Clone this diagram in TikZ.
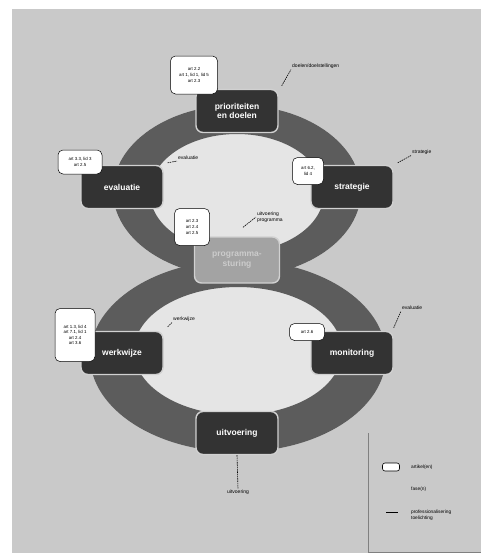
\documentclass[tikz,border=0pt]{standalone}
\usepackage{fontspec}
\setmainfont{Liberation Sans}
\definecolor{bgc}{gray}{0.79}
\definecolor{innerc}{gray}{0.9}
\definecolor{bandc}{gray}{0.36}
\definecolor{phasec}{gray}{0.2}
\definecolor{centerc}{gray}{0.64}
\begin{document}
\begin{tikzpicture}[x=1pt,y=-1pt,
  phase/.style={rounded corners=7pt, fill=phasec, draw=white!82!black, line width=1.4pt,
    text=white, font=\bfseries\fontsize{8.5}{9.5}\selectfont, align=center,
    minimum width=82pt, minimum height=43pt, inner sep=2pt},
  centerbox/.style={phase, fill=centerc, text=white!80!black},
  art/.style={rounded corners=5pt, fill=white, draw=black, line width=0.5pt,
    font=\fontsize{4.4}{5.6}\selectfont, align=center, inner sep=1.5pt},
  lab/.style={font=\fontsize{5}{6}\selectfont, inner sep=1pt, align=left},
  lead/.style={dash pattern=on 1.5pt off 0.8pt, line width=0.6pt},
  legtxt/.style={font=\fontsize{4.8}{6}\selectfont, inner sep=0pt, align=left, anchor=west}]
\useasboundingbox (0,0) rectangle (481,560);
\fill[white] (0,0) rectangle (481,560);
\fill[bgc] (12,9) rectangle (481,553);
% the figure eight
\fill[innerc] (237,191) ellipse [x radius=124pt, y radius=86pt];
\fill[innerc] (238,356) ellipse [x radius=148pt, y radius=96pt];
\fill[bandc, even odd rule] (237,191) ellipse [x radius=124pt, y radius=86pt]
  (237,193) ellipse [x radius=87pt, y radius=59pt];
\fill[bandc, even odd rule] (238,356) ellipse [x radius=148pt, y radius=96pt]
  (238,351) ellipse [x radius=104pt, y radius=64pt];
% phases
\node[phase] (pd) at (237,111) {prioriteiten\\en doelen};
\node[phase] (ev) at (122,187) {evaluatie};
\node[phase] (st) at (352,187) {strategie};
\node[centerbox, minimum width=85pt, minimum height=46pt] (pk) at (237,260) {programma-\\sturing};
\node[phase] (ww) at (122,353) {werkwijze};
\node[phase] (mo) at (352,353) {monitoring};
\node[phase] (uv) at (237,433) {uitvoering};
% article boxes
\node[art, minimum width=47pt, minimum height=38pt] (a1) at (194,75) {art 2.2\\art 1, lid 1, lid 5\\art 2.3};
\node[art, minimum width=44pt, minimum height=24pt] (a2) at (80,162) {art 3.3, lid 3\\art 2.5};
\node[art, minimum width=31pt, minimum height=27pt] (a3) at (308,171) {art 6.2,\\lid 4};
\node[art, minimum width=35pt, minimum height=37pt] (a4) at (192,227) {art 2.3\\art 2.4\\art 2.5};
\node[art, minimum width=40pt, minimum height=53pt] (a5) at (75,335) {art 1.3, lid 4\\art 7.1, lid 1\\art 2.4\\art 3.6};
\node[art, minimum width=35pt, minimum height=17pt] (a6) at (307,332) {art 2.6};
% labels
\node[lab, anchor=west] (l1) at (291,66) {doelen/doelstellingen};
\node[lab, anchor=west] (l2) at (411,152) {strategie};
\node[lab, anchor=west] (l3) at (177,158) {evaluatie};
\node[lab, anchor=west] (l4) at (256,217) {uitvoering\\programma};
\node[lab, anchor=west] (l5) at (172,319) {werkwijze};
\node[lab, anchor=west] (l6) at (401,308) {evaluatie};
\node[lab] (l7) at (238,492) {uitvoering};
\draw[lead] ([shift={(3,-3)}]pd.north east) -- (l1.south west);
\draw[lead] ([shift={(4,-2)}]st.north east) -- (l2.south west);
\draw[lead] ([shift={(4,-2)}]ev.north east) -- (l3.south west);
\draw[lead] ([shift={(6,-9)}]pk.north) -- (l4.west);
\draw[lead] ([shift={(4,-4)}]ww.north east) -- (l5.south west);
\draw[lead] ([shift={(0,-3)}]mo.north east) -- (l6.south west);
\draw[lead] (uv.south) -- (l7.north);
% legend
\draw[gray, line width=0.4pt] (368,433) -- (368,552) -- (481,552);
\node[draw=black, fill=white, rounded corners=2.5pt, line width=0.6pt, minimum width=17pt, minimum height=8pt, inner sep=0pt] (k1) at (391,467) {};
\node[legtxt] (t1) at (411,467) {artikel(en)};
\node[legtxt] (t2) at (411,489) {fase(n)};
\coordinate (k3a) at (386,512);
\coordinate (k3b) at (398,512);
\draw[line width=0.8pt] (k3a) -- (k3b);
\node[legtxt] (t3) at (411,515) {professionalisering\\toelichting};
\end{tikzpicture}
\end{document}
